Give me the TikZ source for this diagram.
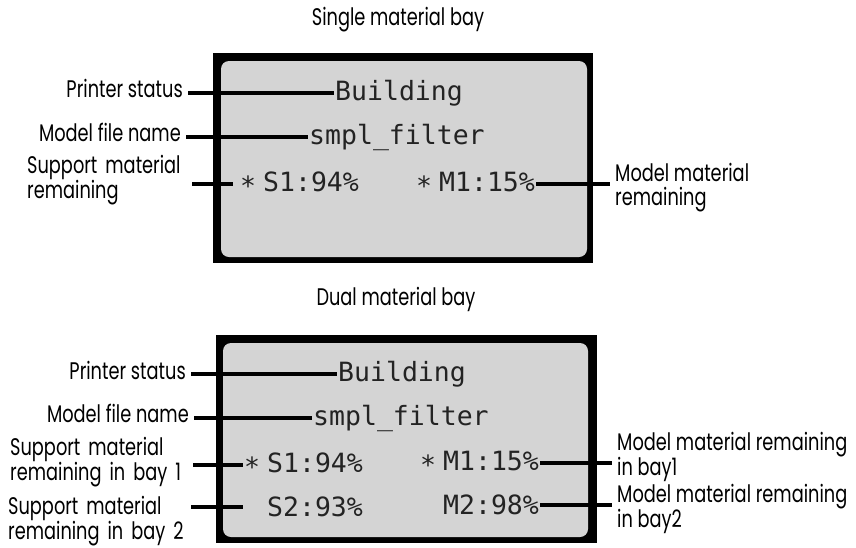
\documentclass[tikz,border=0pt]{standalone}
\usepackage{fontspec}
\setmainfont{Poppins}[FakeStretch=0.74]
\newfontfamily\lcdfont{DejaVu Sans Mono}
\definecolor{panelgray}{RGB}{212,212,212}
\definecolor{lcdtext}{RGB}{35,35,35}
\newcommand{\lcdstar}{\raisebox{-4pt}{*}}
\newcommand{\lcdus}{\char"5F\relax}
\begin{document}
\begin{tikzpicture}[x=1pt,y=-1pt,
  lbl/.style={font=\fontsize{24}{24}\selectfont, inner xsep=5pt, inner ysep=0pt},
  lcd/.style={font=\lcdfont\fontsize{26.5}{27}\selectfont, text=lcdtext, inner xsep=1pt, inner ysep=0pt, anchor=west},
  leader/.style={line width=4pt, black},
]
\useasboundingbox (0,0) rectangle (856,547);

% ---------- Single material bay ----------
\node[lbl] (title1) at (398,20) {Single material bay};
\fill[black] (213,53) rectangle (593,263);
\fill[panelgray, rounded corners=8pt] (221,61) rectangle (587,257);

\node[lcd] (bld1) at (334,93) {Building};
\node[lcd] (fn1) at (308,137) {smpl\lcdus filter};
\node[lcd] (s1t) at (233,184) {\kern6pt\lcdstar\kern7pt S1:94\%};
\node[lcd] (m1t) at (415,184) {\lcdstar\kern7pt M1:15\%};

\node[lbl, anchor=east] (ps1) at (188,88) {Printer status};
\node[lbl, anchor=east] (mf1) at (186,132) {Model file name};
\node[lbl, anchor=west, text width=160pt, align=left] (sm1) at (22,180) {Support material\\remaining};
\node[lbl, anchor=west, align=left] (mm1) at (610,188) {Model material\\remaining};

\draw[leader] (ps1.east |- bld1.west) -- (bld1.west);
\draw[leader] (mf1.east |- fn1.west) -- (fn1.west);
\draw[leader] (sm1.east |- s1t.west) -- (s1t.west);
\draw[leader] (m1t.east) -- (m1t.east -| mm1.west);

% ---------- Dual material bay ----------
\node[lbl] (title2) at (396,299) {Dual material bay};
\fill[black] (216,335) rectangle (597,543);
\fill[panelgray, rounded corners=8pt] (223,343) rectangle (588,537);

\node[lcd] (bld2) at (337,374) {Building};
\node[lcd] (fn2) at (312,418) {smpl\lcdus filter};
\node[lcd] (s1b) at (243,465) {\lcdstar\kern7pt S1:94\%};
\node[lcd] (s2b) at (243,507) {\phantom{*}\kern7pt S2:93\%};
\node[lcd] (m1b) at (419,463) {\lcdstar\kern7pt M1:15\%};
\node[lcd] (m2b) at (419,505) {\phantom{*}\kern7pt M2:98\%};

\node[lbl, anchor=east] (ps2) at (191,370) {Printer status};
\node[lbl, anchor=east] (mf2) at (194,413) {Model file name};
\node[lbl, anchor=west, text width=178pt, align=left] (sb1) at (5,462) {Support material\\remaining in bay 1};
\node[lbl, anchor=west, text width=178pt, align=left] (sb2) at (3,521) {Support material\\remaining in bay 2};
\node[lbl, anchor=west, align=left] (mb1) at (612,457) {Model material remaining\\in bay1};
\node[lbl, anchor=west, align=left] (mb2) at (612,509) {Model material remaining\\in bay2};

\draw[leader] (ps2.east |- bld2.west) -- (bld2.west);
\draw[leader] (mf2.east |- fn2.west) -- (fn2.west);
\draw[leader] (sb1.east |- s1b.west) -- (s1b.west);
\draw[leader] (sb2.east |- s2b.west) -- (s2b.west);
\draw[leader] (m1b.east) -- (m1b.east -| mb1.west);
\draw[leader] (m2b.east) -- (m2b.east -| mb2.west);
\end{tikzpicture}
\end{document}
